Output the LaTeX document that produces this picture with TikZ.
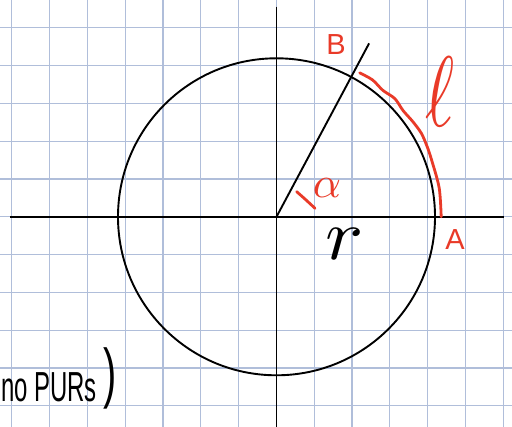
\documentclass[tikz,border=0pt]{standalone}
\usepackage{fontspec}
\setsansfont{Liberation Sans}
\begin{document}
\begin{tikzpicture}[x=1pt,y=1pt]
\definecolor{gridc}{RGB}{176,190,218}
\definecolor{penred}{RGB}{233,58,40}
\tikzset{
  gridline/.style={gridc,line width=1.2pt},
  ink/.style={black,line width=1.9pt},
  redink/.style={penred,line width=2.8pt,line cap=round,line join=round},
  redlabel/.style={text=penred,font=\sffamily\fontsize{29}{29}\selectfont,inner sep=0pt},
}
\useasboundingbox (0,0) rectangle (512,427);
\clip (0,0) rectangle (512,427);
\fill[white] (0,0) rectangle (512,427);
\foreach \i in {0,...,13} \draw[gridline] ({11.7+37.8*\i},0) -- ++(0,427);
\foreach \j in {-5,...,5} \draw[gridline] (0,{210.2+37.8*\j}) -- ++(512,0);
% axes
\coordinate (O) at (276.5,210.2);
\coordinate (xl) at (10,210.2);
\coordinate (xr) at (504,210.2);
\coordinate (yt) at (276.5,420.3);
\coordinate (yb) at (276.5,0);
\draw[ink] (xl) -- (xr);
\draw[ink] (yt) -- (yb);
% circle
\draw[ink] (O) circle[radius=158.5];
% radius line
\coordinate (P) at (369.1,383.6);
\draw[ink] (O) -- (P);
% red arc l
\draw[redink] plot[smooth] coordinates {(359.7,354.1) (372.5,347.1) (382.8,336.7) (394.8,328.4) (403.1,316.4) (412.7,305.5) (421.3,293.8) (427.1,280.5) (431.7,266.7) (439.2,239) (441.2,210.3)};
% angle mark
\draw[redink] (296.7,235.3) .. controls (305,228) .. (315,218.7);
% labels
\node[redlabel] (Blab) at (336,382) {B};
\node[redlabel] (Alab) at (455,187) {A};
\node[text=penred,inner sep=0pt] (ell) at (440,335) {\scalebox{7}[10]{$\ell$}};
\node[text=penred,inner sep=0pt] (alph) at (327,239) {\scalebox{4.4}{$\alpha$}};
\node[inner sep=0pt] (rlab) at (345,183) {\scalebox{8}[7.2]{$r$}};
% bottom-left fragment
\node[anchor=south west,inner sep=0pt] (frag) at (1,25) {\scalebox{0.57}[1]{\sffamily\fontsize{42}{42}\selectfont no PURs}};
\node[inner sep=0pt] (paren) at (110,49) {\scalebox{0.6}[1]{\sffamily\fontsize{66}{66}\selectfont )}};
\end{tikzpicture}
\end{document}
